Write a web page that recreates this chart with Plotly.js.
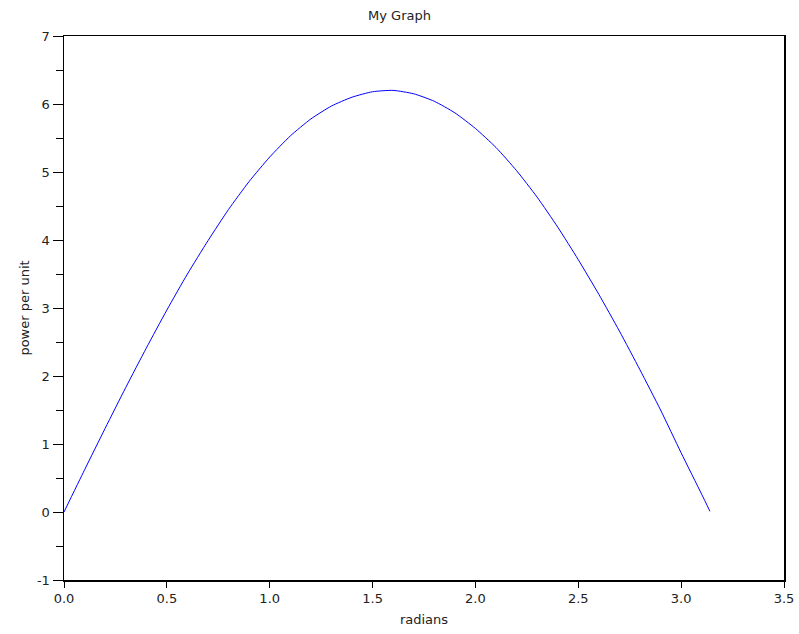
<!DOCTYPE html>
<html>
<head>
<meta charset="utf-8">
<script src="https://cdn.plot.ly/plotly-3.0.1.min.js"></script>
<style>html,body{margin:0;padding:0;background:#fff;}#chart{width:799px;height:634px;}</style>
</head>
<body>
<div id="chart"></div>
<script>
// Values
var radians = [0.0, 0.1, 0.2, 0.3, 0.4, 0.5, 0.6, 0.7, 0.8, 0.9, 1.0, 1.1, 1.2, 1.3, 1.4, 1.5, 1.6, 1.7, 1.8, 1.9, 2.0, 2.1, 2.2, 2.3, 2.4, 2.5, 2.6, 2.7, 2.8, 2.9, 3.0, 3.1, 3.14];
var powerPerUnit = [0.0, 0.62, 1.23, 1.83, 2.41, 2.97, 3.50, 3.99, 4.45, 4.86, 5.22, 5.53, 5.78, 5.97, 6.10, 6.18, 6.20, 6.15, 6.04, 5.87, 5.64, 5.36, 5.02, 4.63, 4.19, 3.71, 3.20, 2.66, 2.09, 1.50, 0.87, 0.26, 0.01];
var xTickVals = [0.0, 0.5, 1.0, 1.5, 2.0, 2.5, 3.0, 3.5];
var xTickText = ['0.0', '0.5', '1.0', '1.5', '2.0', '2.5', '3.0', '3.5'];
var yTickVals = [-1, 0, 1, 2, 3, 4, 5, 6, 7];
var yTickText = ['-1', '0', '1', '2', '3', '4', '5', '6', '7'];

var font = {family: 'DejaVu Sans, sans-serif', size: 13, color: '#222'};

var trace = {
  x: radians, y: powerPerUnit, type: 'scatter', mode: 'lines',
  line: {color: '#0000ff', width: 1, shape: 'spline', smoothing: 0.6}, hoverinfo: 'none', showlegend: false
};

var layout = {
  width: 799, height: 634,
  margin: {l: 64, r: 15, t: 36, b: 54, pad: 0},
  paper_bgcolor: '#ffffff', plot_bgcolor: '#ffffff',
  font: font,
  title: {text: 'My Graph', font: {family: 'DejaVu Sans, sans-serif', size: 13, color: '#222'}, x: 0.5, xanchor: 'center', y: 0.975, yanchor: 'middle'},
  xaxis: {
    range: [0, 3.5], tickmode: 'array', tickvals: xTickVals, ticktext: xTickText,
    ticks: 'outside', ticklen: 6, tickwidth: 1, tickcolor: '#000',
    showline: true, linecolor: '#000', linewidth: 1.5, mirror: true,
    showgrid: false, zeroline: false,
    tickfont: font,
    title: {text: 'radians', font: font, standoff: 10}
  },
  yaxis: {
    range: [-1, 7], tickmode: 'array', tickvals: yTickVals, ticktext: yTickText,
    ticks: 'outside', ticklen: 10, tickwidth: 1, tickcolor: '#000',
    minor: {dtick: 0.5, ticks: 'outside', ticklen: 7, tickwidth: 1, tickcolor: '#000', showgrid: false},
    showline: true, linecolor: '#000', linewidth: 1.5, mirror: true,
    showgrid: false, zeroline: false,
    tickfont: font,
    title: {text: 'power per unit', font: font, standoff: 4}
  }
};

Plotly.newPlot('chart', [trace], layout, {staticPlot: true, displayModeBar: false});
</script>
</body>
</html>
